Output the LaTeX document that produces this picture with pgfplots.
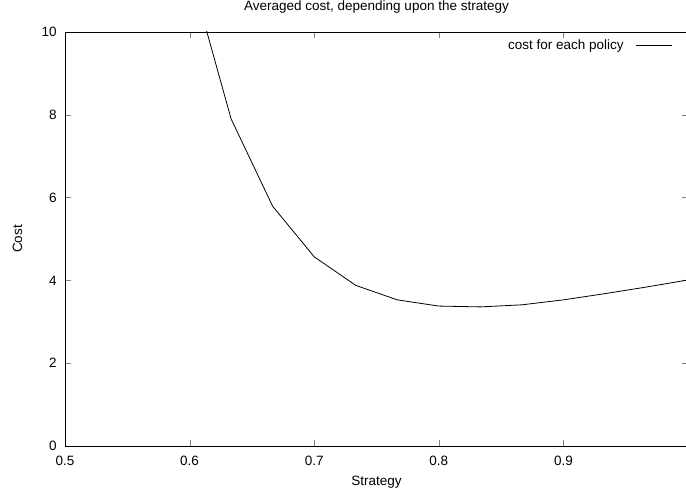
\documentclass[border=0pt]{standalone}
\usepackage{fontspec}
\setmainfont{Liberation Sans}
\usepackage{pgfplots}
\pgfplotsset{compat=1.18}
\begin{document}
\begin{tikzpicture}
\path[use as bounding box] (0,0) rectangle (686bp,493bp);
\begin{axis}[
  at={(65bp,47bp)}, anchor=south west,
  scale only axis, width=623bp, height=414bp,
  xmin=0.5, xmax=1.0, ymin=0, ymax=10,
  xtick={0.5,0.6,0.7,0.8,0.9},
  xticklabels={0.5,0.6,0.7,0.8,0.9},
  ytick={0,2,4,6,8,10},
  yticklabels={0,2,4,6,8,10},
  tick align=inside, major tick length=6bp,
  every axis/.append style={line width=0.9bp},
  font=\fontsize{13.5bp}{16bp}\selectfont,
  /pgf/number format/assume math mode=true,
  yticklabel style={inner sep=0pt, xshift=-8bp},
  xticklabel style={inner sep=0pt, yshift=-9.5bp},
  title={Averaged cost, depending upon the strategy},
  title style={at={(rel axis cs:0.5,1)}, anchor=base, yshift=15.3bp, inner sep=0pt},
  xlabel={Strategy},
  xlabel style={at={(rel axis cs:0.5,0)}, anchor=base, yshift=-39bp, inner sep=0pt},
  ylabel={Cost},
  ylabel style={at={(rel axis cs:0,0.5)}, anchor=base, rotate=0, yshift=43bp, inner sep=0pt},
  legend plot pos=right,
  legend cell align=right,
  legend style={draw=none, fill=none, at={(rel axis cs:1,1)}, anchor=north east,
    xshift=-15bp, yshift=-7bp, inner sep=0pt, column sep=12bp,
    nodes={inner sep=0pt}},
  legend image code/.code={\draw[#1] (0bp,0bp) -- (36bp,0bp);},
]
\addplot[black, line width=0.8bp] coordinates {
 (0.6,11.5) (0.63333,7.90) (0.66667,5.79) (0.7,4.57) (0.73333,3.88)
 (0.76667,3.53) (0.8,3.38) (0.83333,3.36) (0.86667,3.41) (0.9,3.53)
 (0.93333,3.68) (0.96667,3.84) (1.0,4.01)
};
\addlegendentry{cost for each policy}
\end{axis}
\end{tikzpicture}
\end{document}
